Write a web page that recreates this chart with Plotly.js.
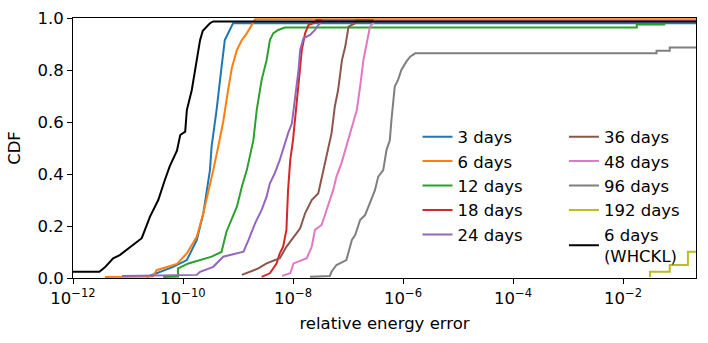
<!DOCTYPE html>
<html>
<head>
<meta charset="utf-8">
<script src="https://cdn.plot.ly/plotly-3.0.1.min.js"></script>
<style>
  html, body { margin: 0; padding: 0; background: #fff; }
  #chart { width: 708px; height: 343px; }
</style>
</head>
<body>
<div id="chart"></div>
<script>
// CDF of relative energy error, log10(error)
const D3_LOG = [-10.66, -10.18, -9.93, -9.75, -9.63, -9.51, -9.48, -9.39, -9.3, -9.24, -9.15, -9.09, -0.5];
const D3_CDF = [0.004, 0.043, 0.069, 0.146, 0.249, 0.415, 0.505, 0.646, 0.81, 0.915, 0.954, 0.98, 0.98];

const D6_LOG = [-11.42, -10.55, -10.48, -10.3, -10.11, -9.93, -9.75, -9.63, -9.54, -9.45, -9.36, -9.27, -9.18, -9.11, -9.02, -8.93, -8.84, -8.72, -8.69, -0.5];
const D6_CDF = [0.004, 0.006, 0.03, 0.041, 0.054, 0.095, 0.159, 0.249, 0.326, 0.415, 0.505, 0.6, 0.723, 0.81, 0.877, 0.915, 0.941, 0.98, 0.995, 0.995];

const D12_LOG = [-10.36, -10.09, -10.09, -9.9, -9.48, -9.3, -9.21, -9.02, -8.93, -8.84, -8.72, -8.66, -8.57, -8.48, -8.42, -8.36, -8.27, -8.15, -1.75, -1.75, -1.25, -1.25, -0.5];
const D12_CDF = [0.004, 0.006, 0.037, 0.056, 0.082, 0.1, 0.178, 0.274, 0.351, 0.415, 0.53, 0.646, 0.762, 0.838, 0.915, 0.941, 0.954, 0.963, 0.963, 0.975, 0.975, 0.99, 0.99];

const D18_LOG = [-8.57, -8.42, -8.3, -8.24, -8.18, -8.12, -8.09, -8.05, -8.0, -7.93, -7.87, -7.84, -7.78, -7.72, -7.63, -7.57, -0.5];
const D18_CDF = [0.004, 0.018, 0.056, 0.095, 0.12, 0.185, 0.338, 0.454, 0.53, 0.697, 0.81, 0.877, 0.941, 0.973, 0.98, 0.992, 0.992];

const D24_LOG = [-11.11, -9.75, -9.69, -9.45, -9.27, -8.9, -8.81, -8.69, -8.57, -8.48, -8.42, -8.33, -8.24, -8.15, -8.09, -8.02, -7.96, -7.9, -7.87, -7.81, -7.69, -7.6, -7.54, -7.48, -7.45, -0.5];
const D24_CDF = [0.008, 0.012, 0.024, 0.043, 0.082, 0.101, 0.146, 0.21, 0.262, 0.313, 0.364, 0.403, 0.454, 0.518, 0.556, 0.595, 0.697, 0.8, 0.877, 0.922, 0.935, 0.954, 0.973, 0.986, 0.992, 0.992];

const D36_LOG = [-8.93, -8.78, -8.63, -8.48, -8.24, -8.12, -8.0, -7.87, -7.78, -7.66, -7.54, -7.45, -7.39, -7.33, -7.3, -7.24, -7.18, -7.11, -7.05, -6.99, -6.87, -6.85, -0.5];
const D36_CDF = [0.012, 0.024, 0.037, 0.056, 0.076, 0.12, 0.153, 0.191, 0.249, 0.3, 0.326, 0.415, 0.48, 0.53, 0.556, 0.659, 0.723, 0.838, 0.89, 0.967, 0.98, 0.992, 0.992];

const D48_LOG = [-8.2, -8.05, -7.99, -7.75, -7.66, -7.6, -7.48, -7.39, -7.36, -7.27, -7.21, -7.12, -7.05, -6.96, -6.84, -6.78, -6.72, -6.66, -6.6, -6.54, -6.52, -0.5];
const D48_CDF = [0.008, 0.018, 0.056, 0.076, 0.12, 0.185, 0.204, 0.26, 0.287, 0.338, 0.39, 0.441, 0.492, 0.556, 0.646, 0.736, 0.838, 0.903, 0.967, 0.98, 0.992, 0.992];

const D96_LOG = [-7.69, -7.33, -7.3, -7.21, -7.03, -6.93, -6.87, -6.78, -6.69, -6.6, -6.51, -6.45, -6.36, -6.3, -6.24, -6.21, -6.15, -6.09, -6.03, -5.94, -5.87, -5.78, -1.39, -1.39, -1.15, -1.15, -0.5];
const D96_CDF = [0.005, 0.008, 0.024, 0.05, 0.069, 0.146, 0.165, 0.223, 0.242, 0.287, 0.338, 0.39, 0.415, 0.492, 0.53, 0.608, 0.736, 0.762, 0.8, 0.832, 0.851, 0.864, 0.864, 0.874, 0.874, 0.887, 0.887];

const D192_LOG = [-1.51, -1.51, -1.15, -1.15, -0.82, -0.82, -0.5];
const D192_CDF = [0.004, 0.024, 0.024, 0.05, 0.05, 0.101, 0.101];

const WHCKL_LOG = [-12.5, -11.52, -11.42, -11.27, -11.15, -10.96, -10.75, -10.6, -10.45, -10.33, -10.24, -10.11, -10.05, -9.96, -9.93, -9.84, -9.75, -9.69, -9.64, -9.56, -9.51, -9.45, -0.5];
const WHCKL_CDF = [0.024, 0.024, 0.041, 0.076, 0.088, 0.12, 0.153, 0.236, 0.3, 0.377, 0.43, 0.49, 0.55, 0.563, 0.646, 0.723, 0.838, 0.915, 0.951, 0.967, 0.98, 0.987, 0.987];

const NAMES = ["3 days", "6 days", "12 days", "18 days", "24 days",
  "36 days", "48 days", "96 days", "192 days", "6 days<br>(WHCKL)"];
const LOGS = [D3_LOG, D6_LOG, D12_LOG, D18_LOG, D24_LOG, D36_LOG, D48_LOG, D96_LOG, D192_LOG, WHCKL_LOG];
const CDFS = [D3_CDF, D6_CDF, D12_CDF, D18_CDF, D24_CDF, D36_CDF, D48_CDF, D96_CDF, D192_CDF, WHCKL_CDF];

const COLORS = ["#1f77b4", "#ff7f0e", "#2ca02c", "#d62728", "#9467bd",
  "#8c564b", "#e377c2", "#7f7f7f", "#bcbd22", "#000000"];

const TICK_EXP = [-12, -10, -8, -6, -4, -2];

const FONT = "DejaVu Sans, sans-serif";
const FS = 16.5;

const traces = NAMES.map((name, i) => ({
  x: LOGS[i].map((v) => Math.pow(10, v)),
  y: CDFS[i],
  type: "scatter",
  mode: "lines",
  name,
  line: { color: COLORS[i], width: 2 },
  legend: i < 5 ? "legend" : "legend2",
}));

const legendBase = {
  font: { family: FONT, size: FS, color: "#000" },
  bgcolor: "rgba(0,0,0,0)",
  borderwidth: 0,
  xanchor: "left",
  yanchor: "top",
};

const layout = {
  width: 708,
  height: 343,
  paper_bgcolor: "#fff",
  plot_bgcolor: "#fff",
  font: { family: FONT, size: FS, color: "#000" },
  margin: { l: 73, r: 12, t: 18, b: 65 },
  xaxis: {
    type: "log",
    range: [-12, -0.673],
    tickvals: TICK_EXP.map((e) => Math.pow(10, e)),
    ticktext: TICK_EXP.map((e) => "10<sup>\u2212" + Math.abs(e) + "</sup>"),
    ticks: "outside",
    ticklen: 5,
    tickcolor: "#000",
    showline: true,
    linecolor: "#000",
    linewidth: 1,
    mirror: true,
    showgrid: false,
    zeroline: false,
    tickfont: { family: FONT, size: FS },
    title: { text: "relative energy error", font: { family: FONT, size: FS }, standoff: 10 },
  },
  yaxis: {
    range: [0, 1],
    tickvals: [0, 0.2, 0.4, 0.6, 0.8, 1.0],
    tickformat: ".1f",
    ticks: "outside",
    ticklen: 5,
    tickcolor: "#000",
    showline: true,
    linecolor: "#000",
    linewidth: 1,
    mirror: true,
    showgrid: false,
    zeroline: false,
    tickfont: { family: FONT, size: FS },
    title: { text: "CDF", font: { family: FONT, size: FS }, standoff: 12 },
  },
  legend: { ...legendBase, x: 0.553, y: 0.61 },
  legend2: { ...legendBase, x: 0.788, y: 0.61 },
};

Plotly.newPlot("chart", traces, layout, { displayModeBar: false, staticPlot: true });
</script>
</body>
</html>
